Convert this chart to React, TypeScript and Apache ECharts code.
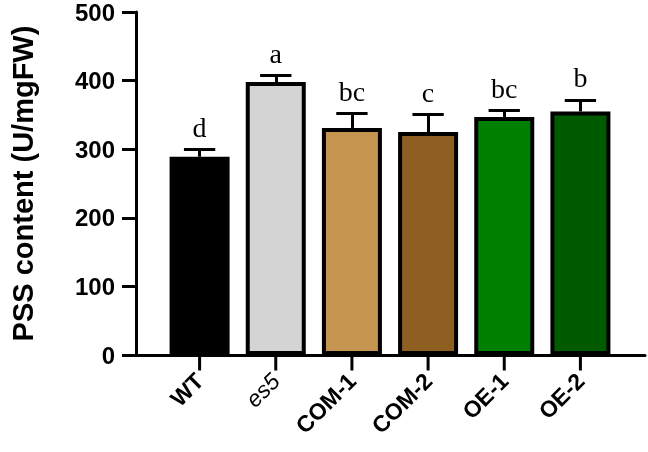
import React, { useEffect, useRef } from "react";
import * as echarts from "echarts";

const categories = ["WT", "es5", "COM-1", "COM-2", "OE-1", "OE-2"];
const means = [289, 398, 331, 325, 347, 355];
const errors = [11, 10, 21, 26, 10, 17];
const letters = ["d", "a", "bc", "c", "bc", "b"];
const barColors = ["#000000", "#d4d4d4", "#c49450", "#8f5f22", "#008000", "#005a00"];
const yTicks = { min: 0, max: 500, interval: 100 };
const yTitle = "PSS content (U/mgFW)";
const positions = categories.map((_, i) => i);

export default function App() {
  const ref = useRef<HTMLDivElement>(null);
  useEffect(() => {
    if (!ref.current) return;
    const chart = echarts.init(ref.current, null, { renderer: "svg" });
    const capHalf = 0.2057; // cap half-width in category units
    const errLines: any[] = [];
    means.forEach((m, i) => {
      const t = m + errors[i];
      errLines.push({ coords: [[i, m], [i, t]] });
      errLines.push({ coords: [[i - capHalf, t], [i + capHalf, t]] });
    });
    chart.setOption({
      animation: false,
      grid: { left: 125, right: 3, top: 11, bottom: 97 },
      xAxis: {
        type: "value",
        min: -0.835,
        max: 5.848,
        splitLine: { show: false },
        axisLine: { show: true, onZero: false, lineStyle: { color: "#000", width: 3 } },
        axisTick: { show: false },
        axisLabel: {
          customValues: positions,
          rotate: 45,
          margin: 22,
          formatter: (v: number) => {
            const c = categories[Math.round(v)];
            return c === "es5" ? `{i|${c}}` : `{b|${c}}`;
          },
          rich: {
            b: { fontWeight: "bold", fontSize: 23, color: "#000" },
            i: { fontStyle: "italic", fontSize: 23, color: "#000" },
          },
        },
      },
      yAxis: {
        type: "value",
        min: yTicks.min,
        max: yTicks.max,
        interval: yTicks.interval,
        name: yTitle,
        nameLocation: "middle",
        nameRotate: 90,
        nameGap: 99,
        nameTextStyle: { fontFamily: "Liberation Sans, Arial", fontWeight: "bold", fontSize: 29, color: "#000" },
        axisLine: { show: true, onZero: false, lineStyle: { color: "#000", width: 3 } },
        axisTick: { show: true, length: 14, lineStyle: { color: "#000", width: 3 } },
        axisLabel: { margin: 21, fontFamily: "Liberation Sans, Arial", fontWeight: "bold", fontSize: 24, color: "#000" },
        splitLine: { show: false },
      },
      series: [
        {
          type: "bar",
          barWidth: 60,
          data: means.map((v, i) => ({
            value: [i, v],
            itemStyle: { color: barColors[i], borderColor: "#000", borderWidth: 4 },
          })),
          z: 2,
        },
        {
          type: "lines",
          coordinateSystem: "cartesian2d",
          clip: false,
          silent: true,
          z: 3,
          lineStyle: { color: "#000", width: 3, opacity: 1 },
          data: errLines,
        },
        {
          type: "scatter",
          z: 3,
          silent: true,
          clip: false,
          symbol: "rect",
          symbolSize: [3, 15],
          symbolOffset: [0, 8],
          itemStyle: { color: "#000", opacity: 1 },
          data: positions.map((i) => [i, 0]),
        },
        {
          type: "scatter",
          z: 4,
          symbolSize: 0,
          silent: true,
          itemStyle: { color: "#000", opacity: 1 },
          data: means.map((m, i) => [i, m + errors[i]]),
          label: {
            show: true,
            position: "top",
            distance: 8,
            opacity: 1,
            formatter: (p: any) => letters[p.dataIndex],
            fontFamily: "Liberation Serif, Times New Roman",
            fontSize: 28,
            color: "#000",
          },
        },
      ],
    });
    return () => chart.dispose();
  }, []);
  return <div ref={ref} style={{ position: "fixed", left: 0, top: 0, width: 648, height: 452 }} />;
}
